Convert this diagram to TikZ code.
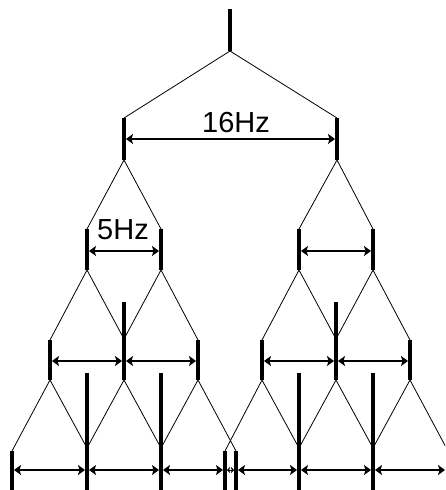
\documentclass[tikz,border=0pt]{standalone}
\usepackage{fontspec}
\setmainfont{Liberation Sans}
\usetikzlibrary{arrows.meta}
\begin{document}
\begin{tikzpicture}[x=1pt,y=-1pt,
  bar/.style={line width=4pt},
  branch/.style={line width=0.8pt},
  gap/.style={line width=1.1pt,shorten <=2pt,shorten >=2pt,
    {Stealth[length=7pt,width=10pt,inset=1.5pt]}-{Stealth[length=7pt,width=10pt,inset=1.5pt]}},
  tinygap/.style={line width=1pt,shorten <=2pt,shorten >=2pt,
    {Stealth[length=3pt,width=6pt,inset=0.8pt]}-{Stealth[length=3pt,width=6pt,inset=0.8pt]}},
  lbl/.style={font=\fontsize{29}{30}\selectfont, anchor=base, inner sep=0pt}]
\useasboundingbox (0,0) rectangle (445,490);
\clip (0,0) rectangle (445,490);

% ---- level 0 (root)
\coordinate (r0t) at (230,9);
\coordinate (r0)  at (230,51);
% ---- level 1
\coordinate (a1t) at (124,118); \coordinate (a1) at (124,160); \coordinate (a1m) at (124,139);
\coordinate (b1t) at (337,118); \coordinate (b1) at (337,160); \coordinate (b1m) at (337,139);
% ---- level 2
\foreach \n/\x in {a2/87, b2/161, c2/299, d2/373}{
  \coordinate (\n t) at (\x,229);
  \coordinate (\n)   at (\x,270);
  \coordinate (\n m) at (\x,251);
}
% ---- level 3
\foreach \n/\x in {a3/50, c3/198, d3/262, f3/410}{
  \coordinate (\n t) at (\x,340);
  \coordinate (\n j) at (\x,340);
  \coordinate (\n)   at (\x,380);
  \coordinate (\n m) at (\x,361);
}
\foreach \n/\x in {b3/124, e3/336}{
  \coordinate (\n t) at (\x,302);
  \coordinate (\n j) at (\x,339);
  \coordinate (\n)   at (\x,380);
  \coordinate (\n m) at (\x,361);
}
% ---- level 4
\foreach \n/\x in {a4/12, d4/236, e4/225, h4/448}{
  \coordinate (\n t) at (\x,451);
  \coordinate (\n j) at (\x,451);
  \coordinate (\n)   at (\x,495);
  \coordinate (\n m) at (\x,470);
}
\foreach \n/\x in {b4/87, c4/161, f4/299, g4/373}{
  \coordinate (\n t) at (\x,373);
  \coordinate (\n j) at (\x,448);
  \coordinate (\n)   at (\x,495);
  \coordinate (\n m) at (\x,470);
}

% ---- bars
\foreach \n in {r0, a1, b1, a2, b2, c2, d2, a3, b3, c3, d3, e3, f3, a4, b4, c4, d4, e4, f4, g4, h4}
  \draw[bar] (\n t) -- (\n);

% ---- branches
\draw[branch] (a1t) -- (r0) -- (b1t);
\draw[branch] (a2t) -- (a1) -- (b2t);
\draw[branch] (c2t) -- (b1) -- (d2t);
\draw[branch] (a3j) -- (a2) -- (b3j);
\draw[branch] (b3j) -- (b2) -- (c3j);
\draw[branch] (d3j) -- (c2) -- (e3j);
\draw[branch] (e3j) -- (d2) -- (f3j);
\draw[branch] (a4j) -- (a3) -- (b4j);
\draw[branch] (b4j) -- (b3) -- (c4j);
\draw[branch] (c4j) -- (c3) -- (d4j);
\draw[branch] (e4j) -- (d3) -- (f4j);
\draw[branch] (f4j) -- (e3) -- (g4j);
\draw[branch] (g4j) -- (f3) -- (h4j);

% ---- frequency gaps
\draw[gap] (a1m) -- (b1m);
\draw[gap] (a2m) -- (b2m);
\draw[gap] (c2m) -- (d2m);
\draw[gap] (a3m) -- (b3m);
\draw[gap] (b3m) -- (c3m);
\draw[gap] (d3m) -- (e3m);
\draw[gap] (e3m) -- (f3m);
\draw[gap] (a4m) -- (b4m);
\draw[gap] (b4m) -- (c4m);
\draw[gap] (c4m) -- (e4m);
\draw[tinygap] (e4m) -- (d4m);
\draw[gap] (d4m) -- (f4m);
\draw[gap] (f4m) -- (g4m);
\draw[gap] (g4m) -- ([xshift=-1pt]h4m);

% ---- labels
\node[lbl] (l16) at (236,132) {16Hz};
\node[lbl] (l5)  at (123,239) {5Hz};
\end{tikzpicture}
\end{document}
